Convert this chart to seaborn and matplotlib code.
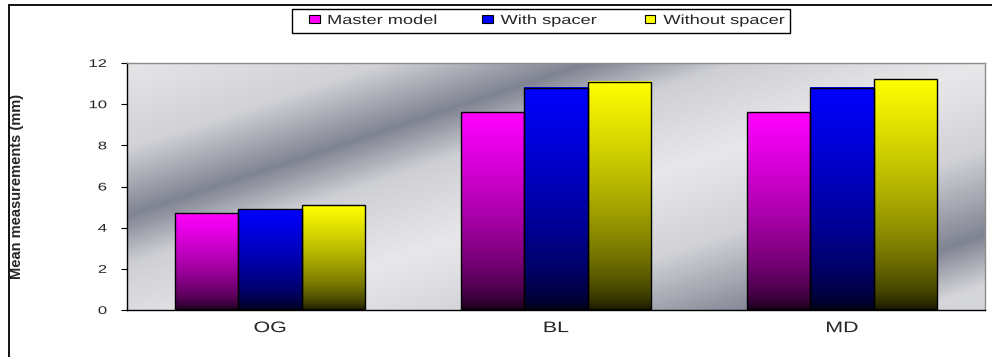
import numpy as np
import pandas as pd
import matplotlib
matplotlib.use("Agg")
import matplotlib.pyplot as plt
from matplotlib.patches import Patch, Rectangle
from matplotlib.lines import Line2D
from matplotlib.patheffects import AbstractPathEffect
from matplotlib.transforms import Affine2D
import seaborn as sns

# ---- data -------------------------------------------------------------
sites = ["OG", "BL", "MD"]
groups = ["Master model", "With spacer", "Without spacer"]
master_model = [4.7, 9.6, 9.6]
with_spacer = [4.9, 10.8, 10.8]
without_spacer = [5.1, 11.1, 11.2]
y_ticks = [0, 2, 4, 6, 8, 10, 12]
bar_colors = ["#ff00ff", "#0000ff", "#ffff00"]

df = pd.DataFrame({
    "Site": sites * 3,
    "Group": [g for g in groups for _ in sites],
    "Mean": master_model + with_spacer + without_spacer,
})

sns.set_style("white")
plt.rcParams["font.family"] = ["Liberation Sans", "DejaVu Sans"]


class HStretch(AbstractPathEffect):
    """Draw text glyphs widened horizontally about an anchor edge."""

    def __init__(self, sx, anchor="center"):
        super().__init__((0.0, 0.0))
        self._sx = sx
        self._anchor = anchor

    def draw_path(self, renderer, gc, tpath, affine, rgbFace=None):
        ext = tpath.get_extents()
        if self._anchor == "center":
            x0 = 0.5 * (ext.x0 + ext.x1)
        elif self._anchor == "right":
            x0 = ext.x1
        else:
            x0 = ext.x0
        pre = Affine2D().translate(-x0, 0).scale(self._sx, 1.0).translate(x0, 0)
        renderer.draw_path(gc, tpath, pre + affine, rgbFace)


W, H = 992, 357
fig = plt.figure(figsize=(W / 100, H / 100), dpi=100)
ax = fig.add_axes([127 / W, 1 - 310 / H, 858 / W, 247 / H])
ax.set_facecolor("none")

# ---- diagonal banded grey backdrop -----------------------------------
nx, ny = 500, 250
X, Y = np.meshgrid(np.linspace(0, 1, nx), np.linspace(0, 1, ny))
s = (0.33 * (127 + 858 * X) + 309 - 246 * Y) / 1.053
sp = [0, 98, 180, 244, 290, 370, 450, 532, 580, 800]
lvl = [1.0, 0.98, 0.78, 0.0, 0.75, 1.0, 0.78, 0.0, 0.82, 0.92]
light = np.array([232, 232, 234])
dark = np.array([128, 132, 146])
mix = np.interp(s, sp, lvl)
bg = (dark[None, None, :] + (light - dark)[None, None, :] * mix[..., None]) / 255.0
ax.imshow(bg, extent=(0, 1, 0, 1), transform=ax.transAxes, origin="lower",
          aspect="auto", zorder=0.2, interpolation="bilinear")

# ---- bars -------------------------------------------------------------
sns.barplot(data=df, x="Site", y="Mean", hue="Group", order=sites,
            hue_order=groups, palette=bar_colors, saturation=1, width=0.665,
            edgecolor="black", linewidth=1.0, legend=False, ax=ax)

t = np.linspace(0, 1, 256)[:, None]
shade = 0.06 + 0.94 * t ** 0.6
for p in list(ax.patches):
    x, y0 = p.get_x(), p.get_y()
    w, h = p.get_width(), p.get_height()
    rgb = np.array(p.get_facecolor()[:3])
    img = shade[..., None] * rgb[None, None, :]
    ax.imshow(img, extent=(x, x + w, y0, y0 + h), origin="lower",
              aspect="auto", zorder=0.9, interpolation="bilinear")
    p.set_facecolor("none")
    p.set_zorder(1.0)

ax.set_xlim(-0.5, 2.5)
ax.set_ylim(0, 12)
ax.set_yticks(y_ticks)
ax.set_yticklabels([str(v) for v in y_ticks])
ax.set_xlabel("")

ax.tick_params(axis="y", direction="out", length=4.5, width=0.8,
               color="black", pad=10, labelsize=8, left=True)
ax.tick_params(axis="x", length=0, pad=8, labelsize=11)
for lbl in ax.get_yticklabels():
    lbl.set_path_effects([HStretch(1.5, "right")])
for lbl in ax.get_xticklabels():
    lbl.set_path_effects([HStretch(1.4, "center")])

for side in ("left", "bottom"):
    ax.spines[side].set_color("black")
    ax.spines[side].set_linewidth(1.0)
for side in ("top", "right"):
    ax.spines[side].set_color("#8c8c8c")
    ax.spines[side].set_linewidth(1.0)

ax.set_ylabel("Mean measurements (mm)", fontsize=10.5, fontweight="bold",
              va="center")
ax.yaxis.set_label_coords(17 / W, 1 - 186 / H, transform=fig.transFigure)

# ---- legend -------------------------------------------------------------
handles = [Patch(facecolor=c, edgecolor="black", linewidth=0.8) for c in bar_colors]
leg = fig.legend(handles, groups, loc="center left",
                 bbox_to_anchor=(309 / W, 1 - 21 / H),
                 bbox_transform=fig.transFigure, ncol=3, frameon=False,
                 fontsize=9.5, handlelength=0.8, handleheight=0.55,
                 handletextpad=0.6, columnspacing=5.65, borderpad=0,
                 borderaxespad=0)
for txt in leg.get_texts():
    txt.set_path_effects([HStretch(1.38, "left")])
fig.patches.append(Rectangle((292 / W, 1 - 33 / H), 498 / W, 24 / H,
                             transform=fig.transFigure, fill=False,
                             edgecolor="black", linewidth=1.0))

# ---- chart area border (open on right and bottom) ---------------------
fig.lines.append(Line2D([9 / W, 1], [1 - 5 / H, 1 - 5 / H],
                        transform=fig.transFigure, color="black", lw=1.3))
fig.lines.append(Line2D([9 / W, 9 / W], [0, 1 - 5 / H],
                        transform=fig.transFigure, color="black", lw=1.3))

fig.savefig("out.png", dpi=100)
